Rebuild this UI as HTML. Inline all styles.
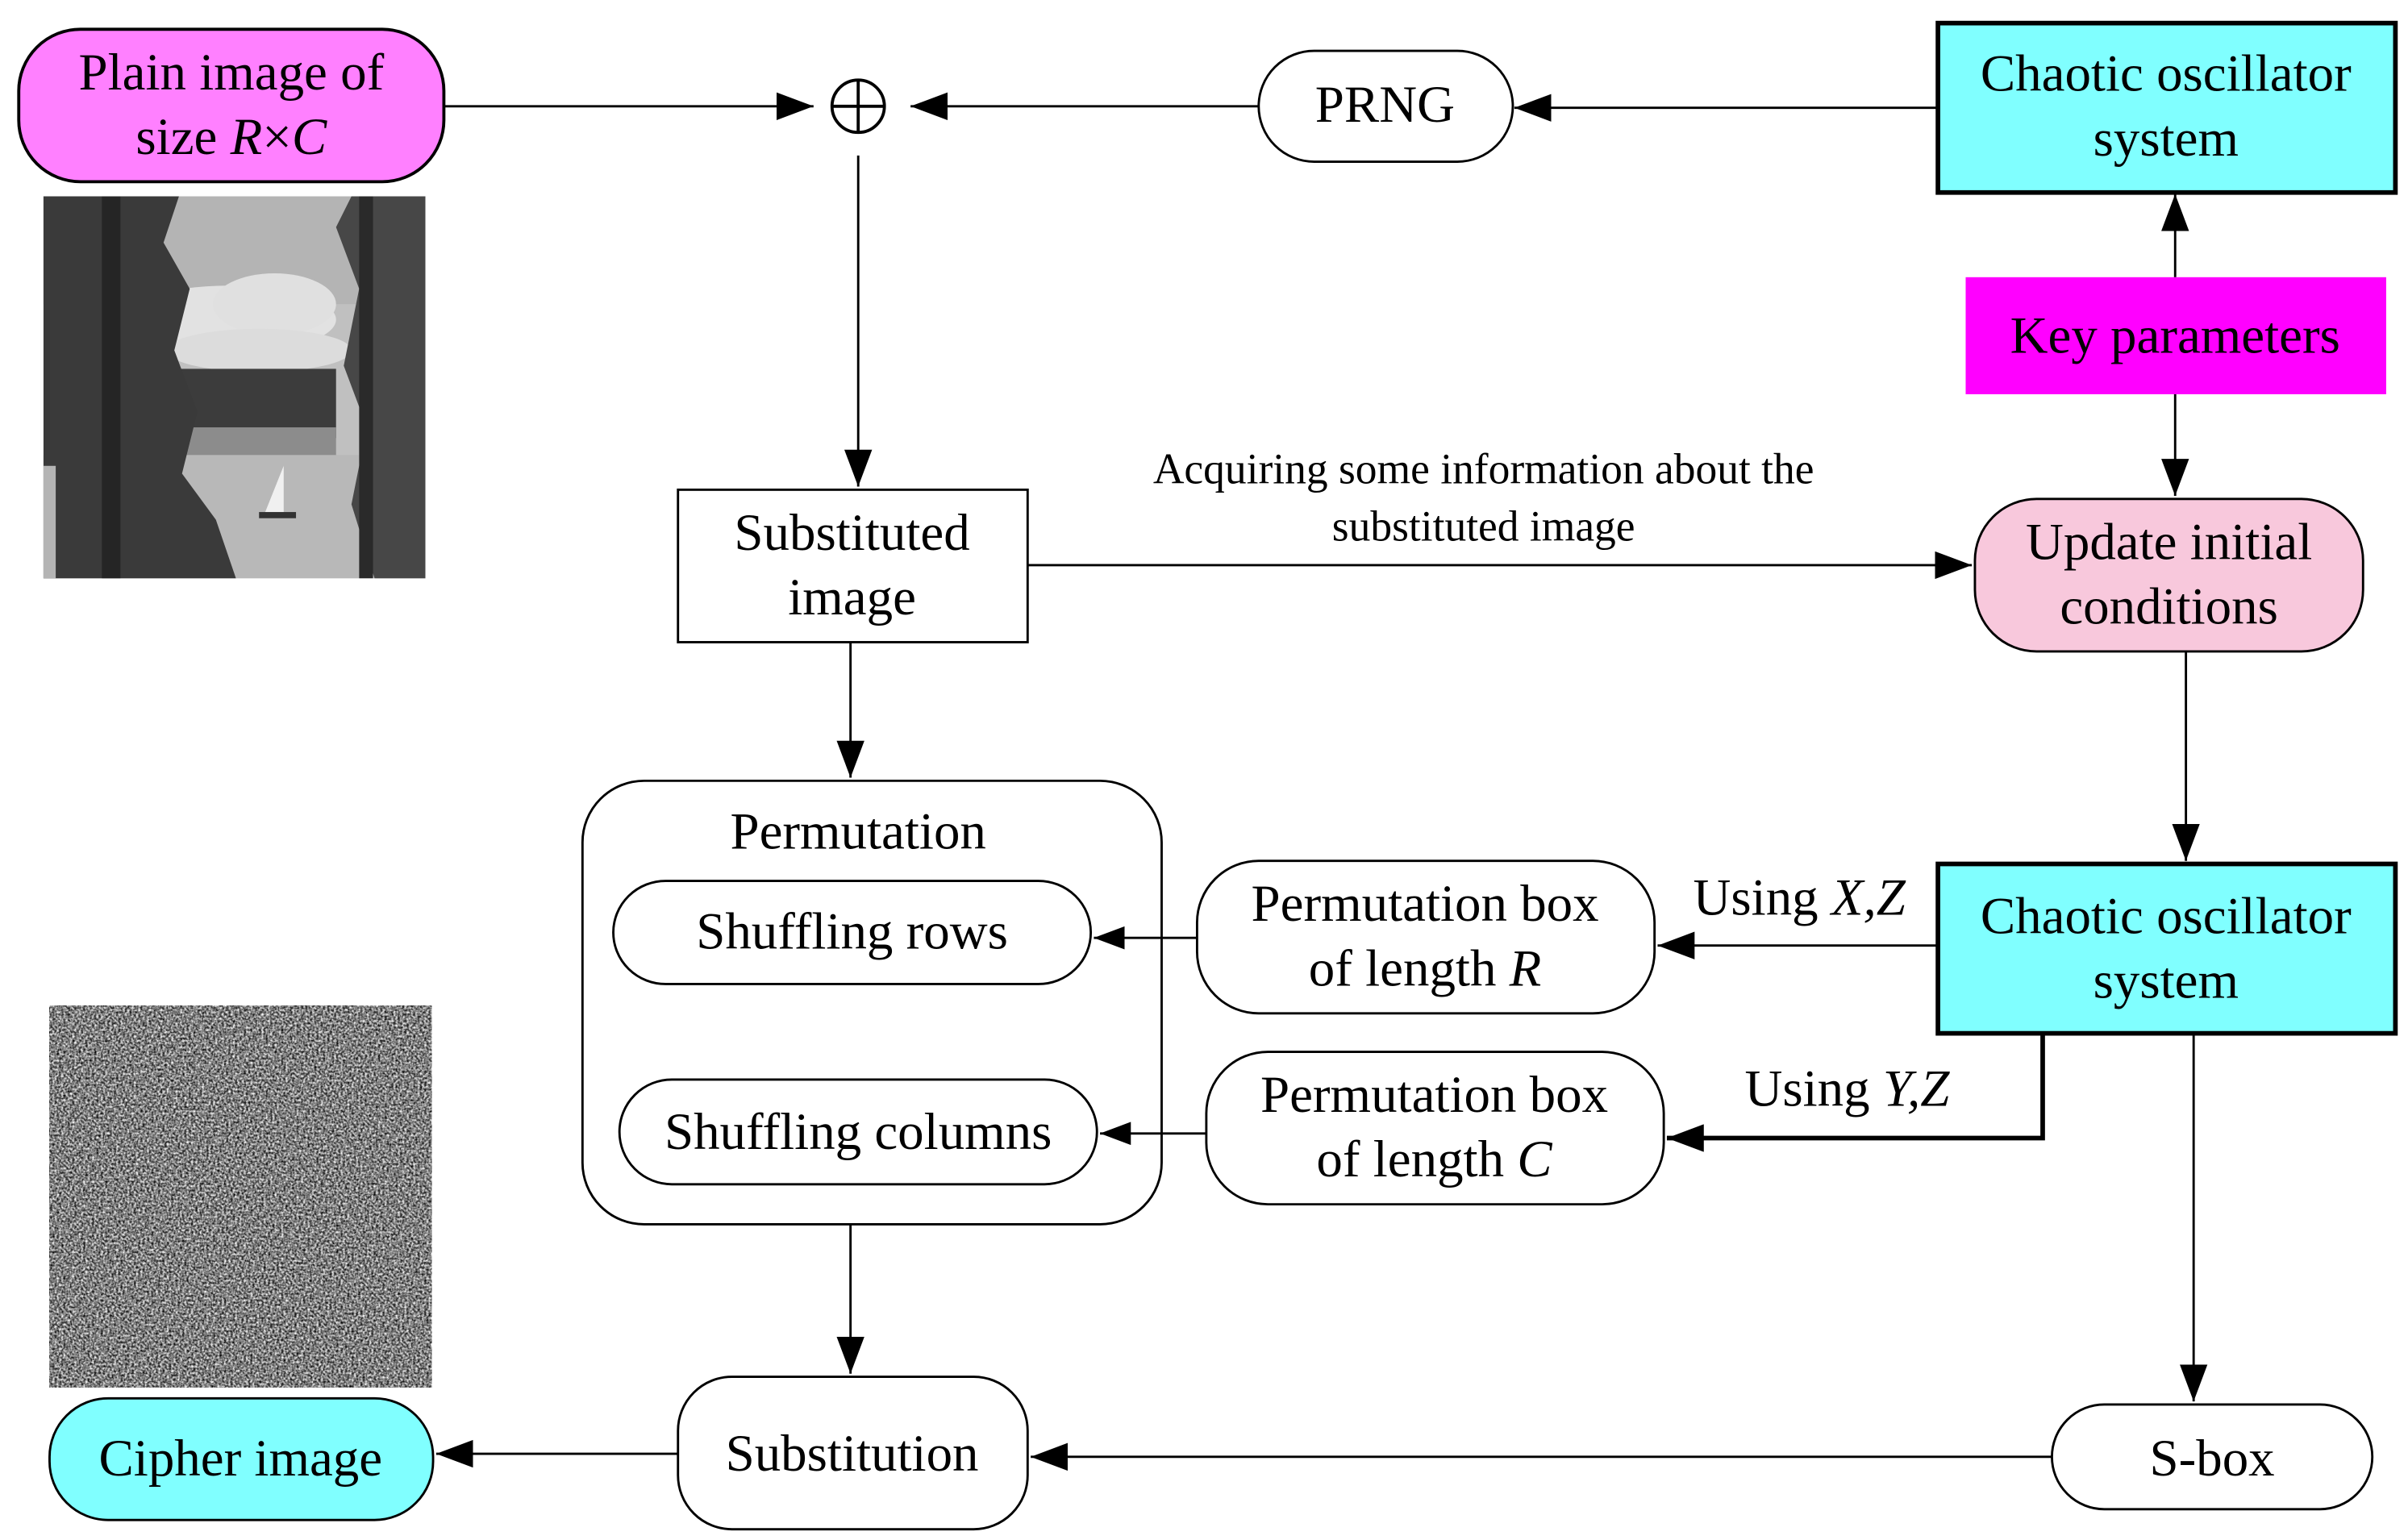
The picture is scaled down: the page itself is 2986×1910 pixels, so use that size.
<!DOCTYPE html>
<html><head><meta charset="utf-8"><style>html,body{margin:0;padding:0;background:#fff}svg{display:block}</style></head>
<body>
<svg xmlns="http://www.w3.org/2000/svg" width="2986" height="1910" viewBox="0 0 1563 1000">
<defs>
<marker id="a" viewBox="0 0 10 10" refX="10" refY="5" markerWidth="24" markerHeight="18" markerUnits="userSpaceOnUse" orient="auto" preserveAspectRatio="none"><path d="M0,0 L10,5 L0,10 Z" fill="#000"/></marker>
<marker id="b" viewBox="0 0 10 10" refX="10" refY="5" markerWidth="20" markerHeight="15" markerUnits="userSpaceOnUse" orient="auto" preserveAspectRatio="none"><path d="M0,0 L10,5 L0,10 Z" fill="#000"/></marker>
<filter id="n" x="0" y="0" width="100%" height="100%" color-interpolation-filters="sRGB"><feTurbulence type="fractalNoise" baseFrequency="0.7" numOctaves="2" seed="3"/><feColorMatrix type="matrix" values="1.5 0 0 0 -0.25  1.5 0 0 0 -0.25  1.5 0 0 0 -0.25  0 0 0 0 1"/></filter>
</defs>
<g font-family="Liberation Serif, serif" font-size="34" text-anchor="middle" fill="#000">
<svg x="28" y="127" width="248" height="249" viewBox="0 0 248 248">
<rect width="248" height="248" fill="#c0c0c0"/>
<rect width="248" height="70" fill="#b4b4b4"/>
<ellipse cx="120" cy="80" rx="70" ry="22" fill="#e2e2e2"/>
<ellipse cx="150" cy="70" rx="40" ry="20" fill="#e0e0e0"/>
<ellipse cx="140" cy="100" rx="60" ry="14" fill="#dcdcdc"/>
<rect x="70" y="112" width="120" height="45" fill="#3c3c3c"/>
<rect x="70" y="150" width="120" height="18" fill="#8c8c8c"/>
<rect x="0" y="168" width="248" height="80" fill="#b8b8b8"/>
<path d="M0,0 H88 L78,30 L95,60 L85,100 L100,140 L90,180 L112,210 L125,248 H0 Z" fill="#3a3a3a"/>
<path d="M248,0 H200 L190,20 L205,60 L195,110 L210,150 L200,200 L215,248 H248 Z" fill="#474747"/>
<rect x="0" y="175" width="8" height="73" fill="#b4b4b4"/>
<rect x="38" y="0" width="12" height="248" fill="#252525"/>
<rect x="205" y="0" width="9" height="248" fill="#2a2a2a"/>
<path d="M156,175 L156,205 L144,205 Z" fill="#f0f0f0"/>
<rect x="140" y="205" width="24" height="4" fill="#333"/>
</svg>
<rect x="32" y="653" width="248" height="248" fill="#808080" filter="url(#n)"/>

<rect x="12" y="19" width="276" height="99" rx="40" fill="#ff80ff" stroke="#000" stroke-width="2"/>
<text x="150" y="58">Plain image of</text>
<text x="150" y="100">size <tspan font-style="italic">R</tspan>×<tspan font-style="italic">C</tspan></text>

<circle cx="557" cy="69" r="17" fill="#fff" stroke="#000" stroke-width="2"/>
<path d="M540,69 H574 M557,52 V86" stroke="#000" stroke-width="2"/>

<rect x="817" y="33" width="165" height="72" rx="36" fill="#fff" stroke="#000" stroke-width="1.5"/>
<text x="899" y="79">PRNG</text>

<rect x="1258" y="15" width="297" height="110" fill="#80ffff" stroke="#000" stroke-width="3"/>
<text x="1406" y="59">Chaotic oscillator</text>
<text x="1406" y="101">system</text>

<rect x="1276" y="180" width="273" height="76" fill="#ff00ff"/>
<text x="1412" y="229">Key parameters</text>

<rect x="1282" y="324" width="252" height="99" rx="40" fill="#f8c8dc" stroke="#000" stroke-width="1.5"/>
<text x="1408" y="363">Update initial</text>
<text x="1408" y="405">conditions</text>

<rect x="440" y="318" width="227" height="99" fill="#fff" stroke="#000" stroke-width="1.5"/>
<text x="553" y="357">Substituted</text>
<text x="553" y="399">image</text>

<text x="963" y="314" font-size="28">Acquiring some information about the</text>
<text x="963" y="351" font-size="28">substituted image</text>

<rect x="378" y="507" width="376" height="288" rx="40" fill="#fff" stroke="#000" stroke-width="1.5"/>
<text x="557" y="551">Permutation</text>
<rect x="398" y="572" width="310" height="67" rx="34" fill="#fff" stroke="#000" stroke-width="1.5"/>
<text x="553" y="616">Shuffling rows</text>
<rect x="402" y="701" width="310" height="68" rx="34" fill="#fff" stroke="#000" stroke-width="1.5"/>
<text x="557" y="746">Shuffling columns</text>

<rect x="777" y="559" width="297" height="99" rx="40" fill="#fff" stroke="#000" stroke-width="1.5"/>
<text x="925" y="598">Permutation box</text>
<text x="925" y="640">of length <tspan font-style="italic">R</tspan></text>
<rect x="783" y="683" width="297" height="99" rx="40" fill="#fff" stroke="#000" stroke-width="1.5"/>
<text x="931" y="722">Permutation box</text>
<text x="931" y="764">of length <tspan font-style="italic">C</tspan></text>

<rect x="1258" y="561" width="297" height="110" fill="#80ffff" stroke="#000" stroke-width="3"/>
<text x="1406" y="606">Chaotic oscillator</text>
<text x="1406" y="648">system</text>

<text x="1168" y="594">Using <tspan font-style="italic">X,Z</tspan></text>
<text x="1199" y="718">Using <tspan font-style="italic">Y,Z</tspan></text>

<rect x="32" y="908" width="249" height="79" rx="38" fill="#80ffff" stroke="#000" stroke-width="1.5"/>
<text x="156" y="958">Cipher image</text>

<rect x="440" y="894" width="227" height="99" rx="35" fill="#fff" stroke="#000" stroke-width="1.5"/>
<text x="553" y="955">Substitution</text>

<rect x="1332" y="912" width="208" height="68" rx="34" fill="#fff" stroke="#000" stroke-width="1.5"/>
<text x="1436" y="958">S-box</text>
</g>

<g stroke="#000" stroke-width="1.5" fill="none" marker-end="url(#a)">
<path d="M288,69 H528"/>
<path d="M817,69 H591"/>
<path d="M1258,70 H983"/>
<path d="M1412,180 V126"/>
<path d="M1412,256 V322"/>
<path d="M557,101 V316"/>
<path d="M667,367 H1280"/>
<path d="M552,417 V505"/>
<path d="M1419,423 V559"/>
<path d="M1258,614 H1076"/>
<path d="M777,609 H710" marker-end="url(#b)"/>
<path d="M1326,671 V739 H1082" stroke-width="3"/>
<path d="M783,736 H714" marker-end="url(#b)"/>
<path d="M1424,671 V910"/>
<path d="M552,795 V892"/>
<path d="M1332,946 H669"/>
<path d="M440,944 H283"/>
</g>
</svg>
</body></html>
